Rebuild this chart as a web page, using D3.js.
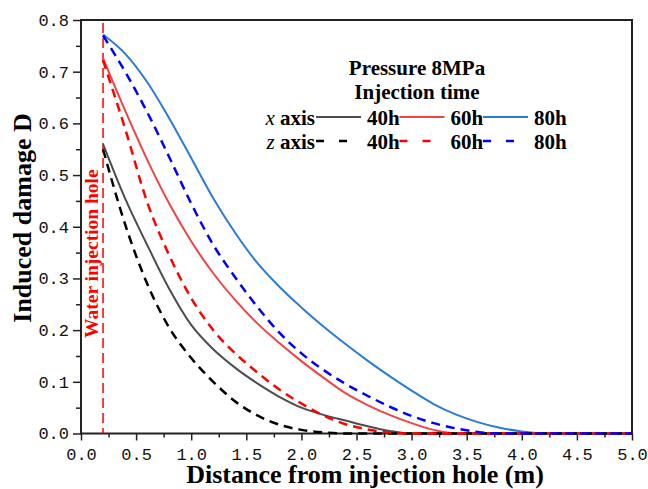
<!DOCTYPE html>
<html>
<head>
<style>
  body { margin: 0; background: #fff; }
  svg { display: block; }
</style>
</head>
<body>
<svg width="648" height="489"></svg>
<script src="https://d3js.org/d3.v7.min.js"></script>
<script>
// distance from injection hole (m)
var distance = [0.2, 0.4, 0.6, 0.8, 1.0, 1.2, 1.4, 1.6, 1.8, 2.0, 2.2, 2.4, 2.6, 2.8, 3.0,
                3.2, 3.4, 3.6, 3.8, 4.0, 4.2, 4.4, 4.6, 4.8, 5.0];

// x axis (solid)
var x40h = [0.560, 0.455, 0.365, 0.280, 0.210, 0.163, 0.127, 0.097, 0.071, 0.050, 0.036, 0.025, 0.014, 0.005, 0.000,
            0, 0, 0, 0, 0, 0, 0, 0, 0, 0];
var x60h = [0.726, 0.625, 0.530, 0.445, 0.372, 0.310, 0.258, 0.213, 0.175, 0.140, 0.108, 0.078, 0.055, 0.036, 0.020,
            0.007, 0.000, 0, 0, 0, 0, 0, 0, 0, 0];
var x80h = [0.772, 0.735, 0.680, 0.610, 0.533, 0.455, 0.388, 0.330, 0.284, 0.244, 0.207, 0.173, 0.141, 0.111, 0.083,
            0.057, 0.037, 0.022, 0.011, 0.004, 0.000, 0, 0, 0, 0];

// z axis (dashed)
var z40h = [0.550, 0.405, 0.290, 0.205, 0.146, 0.100, 0.062, 0.035, 0.017, 0.007, 0.002, 0.000, 0, 0, 0,
            0, 0, 0, 0, 0, 0, 0, 0, 0, 0];
var z60h = [0.722, 0.590, 0.448, 0.345, 0.262, 0.200, 0.155, 0.118, 0.085, 0.058, 0.035, 0.018, 0.008, 0.002, 0.000,
            0, 0, 0, 0, 0, 0, 0, 0, 0, 0];
var z80h = [0.770, 0.700, 0.622, 0.535, 0.445, 0.365, 0.302, 0.245, 0.195, 0.155, 0.123, 0.096, 0.073, 0.052, 0.034,
            0.020, 0.010, 0.003, 0.000, 0, 0, 0, 0, 0, 0];

var holeX = 0.2;
var xTicks = [0, 0.5, 1, 1.5, 2, 2.5, 3, 3.5, 4, 4.5, 5];
var yTicks = [0, 0.1, 0.2, 0.3, 0.4, 0.5, 0.6, 0.7, 0.8];

var series = [
  { name: "40h", axis: "x", values: x40h, color: "#4d4d4d", dash: null },
  { name: "60h", axis: "x", values: x60h, color: "#f04444", dash: null },
  { name: "80h", axis: "x", values: x80h, color: "#2a7bd6", dash: null },
  { name: "40h", axis: "z", values: z40h, color: "#000000", dash: "9,6" },
  { name: "60h", axis: "z", values: z60h, color: "#ff0000", dash: "9,6" },
  { name: "80h", axis: "z", values: z80h, color: "#0000ff", dash: "9,6" }
];

var svg = d3.select("svg"),
    margin = { top: 20, right: 16, bottom: 55.5, left: 81 },
    width = +svg.attr("width") - margin.left - margin.right,
    height = +svg.attr("height") - margin.top - margin.bottom,
    g = svg.append("g").attr("transform", "translate(" + margin.left + "," + margin.top + ")");

var x = d3.scaleLinear().domain([0, 5]).range([0, width]);
var y = d3.scaleLinear().domain([0, 0.8]).range([height, 0]);

var tickFont = "'Liberation Mono', monospace";
var serif = "'Liberation Serif', 'Times New Roman', serif";

// minor ticks
g.append("g")
    .attr("transform", "translate(0," + height + ")")
    .call(d3.axisBottom(x).tickValues(d3.range(0.25, 5, 0.5)).tickSize(4).tickFormat(""))
    .call(function (s) { s.select(".domain").remove(); s.selectAll("line").attr("stroke", "#222").attr("stroke-width", 1.5); });
g.append("g")
    .call(d3.axisLeft(y).tickValues(d3.range(0.05, 0.8, 0.1)).tickSize(5).tickFormat(""))
    .call(function (s) { s.select(".domain").remove(); s.selectAll("line").attr("stroke", "#222").attr("stroke-width", 1.5); });

// major axes
var xAxis = g.append("g")
    .attr("transform", "translate(0," + height + ")")
    .call(d3.axisBottom(x).tickValues(xTicks).tickSize(7).tickPadding(7).tickFormat(d3.format(".1f")));
var yAxis = g.append("g")
    .call(d3.axisLeft(y).tickValues(yTicks).tickSize(8).tickPadding(4).tickFormat(d3.format(".1f")));

[xAxis, yAxis].forEach(function (a) {
  a.select(".domain").remove();
  a.selectAll("line").attr("stroke", "#222").attr("stroke-width", 1.5);
  a.selectAll("text")
    .attr("fill", "#111")
    .style("font-family", tickFont)
    .style("font-size", "17px");
});

// frame
g.append("rect")
    .attr("x", 0).attr("y", 0)
    .attr("width", width).attr("height", height)
    .attr("fill", "none")
    .attr("stroke", "#222")
    .attr("stroke-width", 2);

// water injection hole
g.append("line")
    .attr("x1", x(holeX)).attr("x2", x(holeX))
    .attr("y1", 3).attr("y2", height)
    .attr("stroke", "#ff0000")
    .attr("stroke-width", 1.5)
    .attr("stroke-dasharray", "10,5");

g.append("text")
    .attr("transform", "translate(" + (x(holeX) - 5) + "," + (y(0.348)) + ") rotate(-90)")
    .attr("text-anchor", "middle")
    .attr("fill", "#ff0000")
    .style("font-family", serif)
    .style("font-weight", "bold")
    .style("font-size", "19.5px")
    .text("Water injection hole");

var line = d3.line()
    .x(function (d) { return x(d[0]); })
    .y(function (d) { return y(d[1]); })
    .curve(d3.curveMonotoneX);

series.forEach(function (s) {
  var pts = distance.map(function (d, i) { return [d, s.values[i]]; });
  g.append("path")
    .datum(pts)
    .attr("fill", "none")
    .attr("stroke", s.color)
    .attr("stroke-width", s.dash ? 2.5 : 2)
    .attr("stroke-dasharray", s.dash)
    .attr("d", line);
});

// axis titles
svg.append("text")
    .attr("transform", "translate(31,218) rotate(-90)")
    .attr("text-anchor", "middle")
    .style("font-family", serif)
    .style("font-weight", "bold")
    .style("font-size", "26px")
    .text("Induced damage D");

svg.append("text")
    .attr("x", 365)
    .attr("y", 483)
    .attr("text-anchor", "middle")
    .style("font-family", serif)
    .style("font-weight", "bold")
    .style("font-size", "26px")
    .text("Distance from injection hole (m)");

// legend
var legend = svg.append("g")
    .style("font-family", serif)
    .style("font-weight", "bold")
    .style("font-size", "21px");

legend.append("text").attr("x", 417).attr("y", 75).attr("text-anchor", "middle").text("Pressure 8MPa");
legend.append("text").attr("x", 417).attr("y", 99).attr("text-anchor", "middle").text("Injection time");

var rows = [{ axis: "x", y: 125 }, { axis: "z", y: 149 }];
var cols = [{ name: "40h", x0: 316 }, { name: "60h", x0: 399.5 }, { name: "80h", x0: 483 }];

rows.forEach(function (r) {
  var t = legend.append("text").attr("x", 315).attr("y", r.y).attr("text-anchor", "end");
  t.append("tspan").style("font-style", "italic").style("font-weight", "normal").text(r.axis);
  t.append("tspan").text(" axis");
  cols.forEach(function (c) {
    var s = series.filter(function (d) { return d.axis === r.axis && d.name === c.name; })[0];
    legend.append("line")
      .attr("x1", c.x0).attr("x2", c.x0 + 45)
      .attr("y1", r.y - 8).attr("y2", r.y - 8)
      .attr("stroke", s.color)
      .attr("stroke-width", s.dash ? 2.5 : 2)
      .attr("stroke-dasharray", s.dash ? "8,15" : null);
    legend.append("text").attr("x", c.x0 + 51).attr("y", r.y).text(c.name);
  });
});
</script>
</body>
</html>
